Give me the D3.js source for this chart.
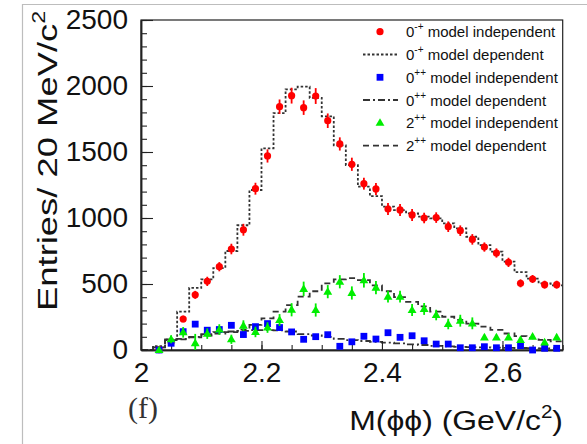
<!DOCTYPE html>
<html><head><meta charset="utf-8">
<script src="https://cdn.jsdelivr.net/npm/d3@7"></script>
<style>
body{margin:0;background:#fff;}
svg{display:block;font-family:"Liberation Sans",Arial,sans-serif;}
</style></head>
<body><svg id="c" width="587" height="444"></svg>
<script>
// ---- data ----
const pointCenters = [2.03,2.05,2.07,2.09,2.11,2.13,2.15,2.17,2.19,2.21,2.23,2.25,2.27,2.29,2.31,2.33,2.35,2.37,2.39,2.41,2.43,2.45,2.47,2.49,2.51,2.53,2.55,2.57,2.59,2.61,2.63,2.65,2.67,2.69];
const ps0mIndep = [3,60,235,418,520,631,765,911,1222,1470,1843,1927,1836,1924,1737,1561,1407,1260,1220,1068,1061,1023,1000,1003,934,904,838,780,735,664,505,538,495,495];
const ps0mIndepErr = [5,15,25,30,35,35,40,45,45,50,55,60,55,60,55,50,50,45,45,45,45,45,40,40,40,40,40,35,35,35,30,30,30,30];
const s0pIndep = [0,51,139,196,150,155,187,117,177,200,170,137,81,101,116,28,62,104,83,131,96,108,70,45,45,17,17,25,17,17,33,0,13,13];
const s0pIndepErr = [5,15,20,20,20,20,20,20,20,20,20,20,18,18,18,15,15,15,15,15,15,15,12,12,12,10,10,10,10,10,10,8,8,8];
const t2pIndep = [0,81,134,52,124,155,81,185,137,170,227,305,463,303,442,517,432,528,472,404,404,303,311,265,197,222,202,96,96,96,76,101,58,96];
const t2pIndepErr = [10,30,40,70,40,40,35,40,40,40,45,50,55,50,50,50,50,55,50,45,45,45,45,40,40,45,45,20,20,20,20,20,20,20];

const binEdgesLow = [2.00,2.02,2.04,2.06,2.08,2.10,2.12,2.14,2.16,2.18,2.20,2.22,2.24,2.26,2.28,2.30,2.32,2.34,2.36,2.38,2.40,2.42,2.44,2.46,2.48,2.50,2.52,2.54,2.56,2.58,2.60,2.62,2.64,2.66,2.68];
const ps0mDep = [0,30,80,290,470,535,620,750,945,1212,1528,1795,1975,1995,1910,1770,1550,1400,1237,1165,1086,1060,1035,1010,997,960,922,858,795,745,670,590,540,505,490];
const s0pDep = [0,20,80,85,100,120,135,140,145,150,150,148,140,120,110,100,85,75,68,62,56,50,42,38,32,28,24,22,20,18,16,15,14,13,12];
const t2pDep = [0,20,75,80,95,110,125,135,155,190,240,290,340,404,445,505,535,545,530,490,445,400,365,330,290,252,228,200,177,152,125,105,90,76,65];

const xTicks = [2.0,2.2,2.4,2.6];
const xTickLabels = ["2","2.2","2.4","2.6"];
const yTicks = [0,500,1000,1500,2000,2500];
const yTickLabels = ["0","500","1000","1500","2000","2500"];
const legendLabels = [
  {sup:"-+", txt:" model independent"},
  {sup:"-+", txt:" model dependent"},
  {sup:"++", txt:" model independent"},
  {sup:"++", txt:" model dependent"},
  {sup:"++", txt:" model independent", base:"2"},
  {sup:"++", txt:" model dependent", base:"2"}
];

// ---- drawing ----
const svg = d3.select("#c");
svg.append("rect").attr("width",587).attr("height",444).attr("fill","#fff");
// outer panel border
svg.append("path").attr("d","M22.5,444 V4.5 H587").attr("fill","none").attr("stroke","#bdbdbd").attr("stroke-width",1.2);

const x = d3.scaleLinear().domain([2.0,2.7]).range([141,562.7]);
const y = d3.scaleLinear().domain([0,2500]).range([350,20]);

// frame
svg.append("rect").attr("x",x(2.0)).attr("y",y(2500)).attr("width",x(2.7)-x(2.0)).attr("height",y(0)-y(2500))
  .attr("fill","none").attr("stroke","#222").attr("stroke-width",1.2);

// histograms (model dependent)
function stepLine(vals){
  const pts = binEdgesLow.map((e,i)=>[e,vals[i]]);
  pts.push([2.70, vals[vals.length-1]]);
  return d3.line().x(d=>x(d[0])).y(d=>y(d[1])).curve(d3.curveStepAfter)(pts);
}
const g = svg.append("g");
g.append("path").attr("d",stepLine(s0pDep)).attr("fill","none").attr("stroke","#333").attr("stroke-width",1.8).attr("stroke-dasharray","7,3,2,3");
g.append("path").attr("d",stepLine(t2pDep)).attr("fill","none").attr("stroke","#333").attr("stroke-width",1.8).attr("stroke-dasharray","6,4");
g.append("path").attr("d",stepLine(ps0mDep)).attr("fill","none").attr("stroke","#333").attr("stroke-width",1.8).attr("stroke-dasharray","2.5,2");

// axes
const xMajor = d3.axisBottom(x).tickValues(xTicks).tickSizeInner(-9).tickSizeOuter(0).tickPadding(12)
  .tickFormat((d,i)=>xTickLabels[i]);
const xMinor = d3.axisBottom(x).tickValues(d3.range(0,15).map(i=>2.0+i*0.05)).tickSizeInner(-5).tickSizeOuter(0).tickFormat("");
const yMajor = d3.axisLeft(y).tickValues(yTicks).tickSizeInner(-12).tickSizeOuter(0).tickPadding(13)
  .tickFormat((d,i)=>yTickLabels[i]);
const yMinor = d3.axisLeft(y).tickValues(d3.range(0,26).map(i=>i*100)).tickSizeInner(-6).tickSizeOuter(0).tickFormat("");

function styleAxis(sel){
  sel.select(".domain").attr("stroke","#222").attr("stroke-width",1.5);
  sel.selectAll(".tick line").attr("stroke","#222").attr("stroke-width",1.1);
  sel.selectAll(".tick text").attr("fill","#111").attr("font-size",28).attr("font-family","Liberation Sans, Arial, sans-serif");
}
svg.append("g").attr("transform",`translate(0,${y(0)})`).call(xMinor).call(styleAxis);
svg.append("g").attr("transform",`translate(0,${y(0)})`).call(xMajor).call(styleAxis);
svg.append("g").attr("transform",`translate(${x(2.0)},0)`).call(yMinor).call(styleAxis);
svg.append("g").attr("transform",`translate(${x(2.0)},0)`).call(yMajor).call(styleAxis);

// data points
function errBars(vals, errs, color){
  svg.append("g").selectAll("line").data(pointCenters).join("line")
    .attr("x1",d=>x(d)).attr("x2",d=>x(d))
    .attr("y1",(d,i)=>y(Math.max(0,vals[i]-errs[i]))).attr("y2",(d,i)=>y(vals[i]+errs[i]))
    .attr("stroke",color).attr("stroke-width",1.8);
}
errBars(ps0mIndep, ps0mIndepErr, "#ff0000");
svg.append("g").selectAll("circle").data(pointCenters).join("circle")
  .attr("cx",d=>x(d)).attr("cy",(d,i)=>y(ps0mIndep[i])).attr("r",3.6).attr("fill","#ff0000");

errBars(s0pIndep, s0pIndepErr, "#0000ff");
svg.append("g").selectAll("rect").data(pointCenters).join("rect")
  .attr("x",d=>x(d)-3.4).attr("y",(d,i)=>y(s0pIndep[i])-3.4).attr("width",6.8).attr("height",6.8).attr("fill","#0000ff");

errBars(t2pIndep, t2pIndepErr, "#00ee00");
const tri = d3.symbol().type(d3.symbolTriangle).size(34);
svg.append("g").selectAll("path").data(pointCenters).join("path")
  .attr("transform",(d,i)=>`translate(${x(d)},${y(t2pIndep[i])+0.5})`).attr("d",tri()).attr("fill","#00ee00");

// legend
const rowY = [31.7,54.5,77.3,100,122.8,145.6];
const leg = svg.append("g");
leg.append("circle").attr("cx",380).attr("cy",rowY[0]).attr("r",3.6).attr("fill","#ff0000");
leg.append("line").attr("x1",363).attr("x2",398).attr("y1",rowY[1]).attr("y2",rowY[1]).attr("stroke","#333").attr("stroke-width",1.8).attr("stroke-dasharray","2.5,2");
leg.append("rect").attr("x",376.6).attr("y",rowY[2]-3.4).attr("width",6.8).attr("height",6.8).attr("fill","#0000ff");
leg.append("line").attr("x1",363).attr("x2",398).attr("y1",rowY[3]).attr("y2",rowY[3]).attr("stroke","#333").attr("stroke-width",1.8).attr("stroke-dasharray","7,3,2,3");
leg.append("path").attr("transform",`translate(380,${rowY[4]+0.5})`).attr("d",tri()).attr("fill","#00ee00");
leg.append("line").attr("x1",363).attr("x2",398).attr("y1",rowY[5]).attr("y2",rowY[5]).attr("stroke","#333").attr("stroke-width",1.8).attr("stroke-dasharray","6,4");
legendLabels.forEach((l,i)=>{
  const t = leg.append("text").attr("x",406).attr("y",rowY[i]+5.5).attr("font-size",15).attr("fill","#111");
  t.append("tspan").text(l.base||"0");
  t.append("tspan").attr("font-size",10).attr("dy",-7).text(l.sup);
  t.append("tspan").attr("dy",7).text(l.txt);
});

// axis titles
const yt = svg.append("text").attr("transform","translate(57,311) rotate(-90) scale(1.3,1)")
  .attr("font-size",28).attr("fill","#111");
yt.append("tspan").text("Entries/ 20 MeV/c");
yt.append("tspan").attr("font-size",18).attr("dy",-12).text("2");

const xt = svg.append("text").attr("transform","translate(563,430) scale(1.14,1)").attr("text-anchor","end")
  .attr("font-size",28).attr("fill","#111");
xt.append("tspan").text("M(ϕϕ) (GeV/c");
xt.append("tspan").attr("font-size",18).attr("dy",-12).text("2");
xt.append("tspan").attr("dy",12).text(")");

svg.append("text").attr("x",143).attr("y",418).attr("text-anchor","middle")
  .attr("font-family","Liberation Serif, Times New Roman, serif").attr("font-size",30).attr("fill","#333").text("(f)");
</script></body></html>
